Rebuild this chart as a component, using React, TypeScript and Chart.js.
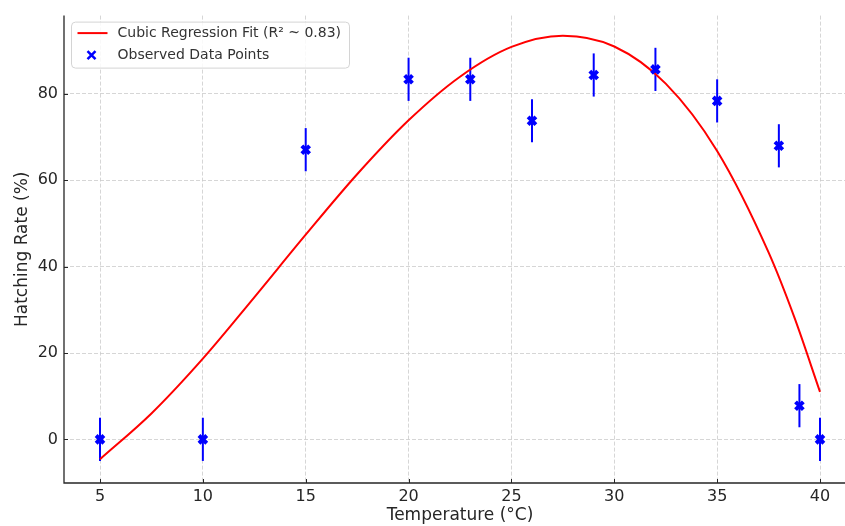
import React, { useEffect, useRef } from "react";
import { Chart, registerables } from "chart.js";

Chart.register(...registerables);

// Observed data
const temperatures = [5, 10, 15, 20, 23, 26, 29, 32, 35, 38, 39, 40];
const hatchingRates = [0, 0, 67.1, 83.4, 83.4, 73.8, 84.4, 85.7, 78.4, 68.0, 7.8, 0];
const errorSizes = [5, 5, 5, 5, 5, 5, 5, 5, 5, 5, 5, 5];

// Cubic regression curve
const fitTemps = [5, 7.5, 10, 12.5, 15, 17.5, 20, 22.5, 25, 27.5, 30, 32.5, 35, 37.5, 38.75, 40];
const fitRates = [-4.6, 6.0, 18.7, 32.9, 47.4, 61.4, 73.9, 84.0, 90.9, 93.5, 91.0, 82.4, 66.8, 43.3, 28.3, 11.0];

const xTicks = [5, 10, 15, 20, 25, 30, 35, 40];
const yTicks = [0, 20, 40, 60, 80];

const fitLabel = "Cubic Regression Fit (R² ~ 0.83)";
const pointsLabel = "Observed Data Points";
const xTitle = "Temperature (°C)";
const yTitle = "Hatching Rate (%)";

const FONT = "'DejaVu Sans', sans-serif";
const AXIS_COLOR = "#262626";

export default function App() {
  const ref = useRef<HTMLCanvasElement | null>(null);

  useEffect(() => {
    if (!ref.current) return;

    const errorBars = {
      id: "errorBars",
      beforeDatasetsDraw(chart: any) {
        const { ctx, scales } = chart;
        const xs = scales.x;
        const ys = scales.y;
        ctx.save();
        ctx.strokeStyle = "#0000ff";
        ctx.lineWidth = 2;
        temperatures.forEach((t, i) => {
          const px = xs.getPixelForValue(t);
          const y1 = ys.getPixelForValue(hatchingRates[i] - errorSizes[i]);
          const y2 = ys.getPixelForValue(hatchingRates[i] + errorSizes[i]);
          ctx.beginPath();
          ctx.moveTo(px, y1);
          ctx.lineTo(px, y2);
          ctx.stroke();
        });
        ctx.restore();
      },
    };

    const spines = {
      id: "spines",
      afterDatasetsDraw(chart: any) {
        const { ctx, chartArea, scales } = chart;
        ctx.save();
        ctx.strokeStyle = AXIS_COLOR;
        ctx.lineWidth = 1.3;
        ctx.setLineDash([]);
        ctx.beginPath();
        ctx.moveTo(chartArea.left, chartArea.top);
        ctx.lineTo(chartArea.left, chartArea.bottom);
        ctx.lineTo(chartArea.right, chartArea.bottom);
        ctx.stroke();
        ctx.lineWidth = 1;
        ctx.beginPath();
        xTicks.forEach((v) => {
          const px = Math.round(scales.x.getPixelForValue(v)) + 0.5;
          ctx.moveTo(px, chartArea.bottom);
          ctx.lineTo(px, chartArea.bottom - 4);
        });
        yTicks.forEach((v) => {
          const py = Math.round(scales.y.getPixelForValue(v)) + 0.5;
          ctx.moveTo(chartArea.left, py);
          ctx.lineTo(chartArea.left + 4, py);
        });
        ctx.stroke();
        ctx.restore();
      },
    };

    const boxLegend = {
      id: "boxLegend",
      afterDraw(chart: any) {
        const { ctx, chartArea } = chart;
        const x0 = chartArea.left + 7.5;
        const y0 = chartArea.top + 6.5;
        const w = 278;
        const h = 46;
        ctx.save();
        ctx.beginPath();
        const r = 4;
        ctx.moveTo(x0 + r, y0);
        ctx.lineTo(x0 + w - r, y0);
        ctx.quadraticCurveTo(x0 + w, y0, x0 + w, y0 + r);
        ctx.lineTo(x0 + w, y0 + h - r);
        ctx.quadraticCurveTo(x0 + w, y0 + h, x0 + w - r, y0 + h);
        ctx.lineTo(x0 + r, y0 + h);
        ctx.quadraticCurveTo(x0, y0 + h, x0, y0 + h - r);
        ctx.lineTo(x0, y0 + r);
        ctx.quadraticCurveTo(x0, y0, x0 + r, y0);
        ctx.closePath();
        ctx.fillStyle = "rgba(255,255,255,0.85)";
        ctx.fill();
        ctx.strokeStyle = "#d4d4d4";
        ctx.lineWidth = 1;
        ctx.stroke();

        // line sample
        ctx.strokeStyle = "#ff0000";
        ctx.lineWidth = 2;
        ctx.beginPath();
        ctx.moveTo(x0 + 6, y0 + 11);
        ctx.lineTo(x0 + 36, y0 + 11);
        ctx.stroke();

        // x marker sample
        const mx = x0 + 20;
        const my = y0 + 33;
        ctx.strokeStyle = "#0000ff";
        ctx.lineWidth = 2.5;
        ctx.beginPath();
        ctx.moveTo(mx - 4, my - 4);
        ctx.lineTo(mx + 4, my + 4);
        ctx.moveTo(mx + 4, my - 4);
        ctx.lineTo(mx - 4, my + 4);
        ctx.stroke();

        ctx.fillStyle = "#333333";
        ctx.font = "14px " + FONT;
        ctx.textBaseline = "middle";
        ctx.textAlign = "left";
        ctx.fillText(fitLabel, x0 + 46, y0 + 11);
        ctx.fillText(pointsLabel, x0 + 46, y0 + 33);
        ctx.restore();
      },
    };

    const chart = new Chart(ref.current, {
      type: "scatter",
      data: {
        datasets: [
          {
            type: "line",
            label: fitLabel,
            data: fitTemps.map((t, i) => ({ x: t, y: fitRates[i] })),
            borderColor: "#ff0000",
            borderWidth: 2,
            pointRadius: 0,
            cubicInterpolationMode: "monotone",
            fill: false,
            order: 2,
          } as any,
          {
            type: "scatter",
            label: pointsLabel,
            data: temperatures.map((t, i) => ({ x: t, y: hatchingRates[i] })),
            pointStyle: "crossRot",
            pointRadius: 5.5,
            borderWidth: 4,
            borderColor: "#0000ff",
            backgroundColor: "#0000ff",
            order: 1,
          },
        ],
      },
      options: {
        responsive: false,
        animation: false,
        devicePixelRatio: 1,
        layout: { padding: { top: 12, right: 14, left: 0, bottom: 0 } },
        plugins: { legend: { display: false }, tooltip: { enabled: false } },
        scales: {
          x: {
            type: "linear",
            min: 3.25,
            max: 41.75,
            afterFit(scale: any) {
              scale.height = 43;
            },
            afterBuildTicks(scale: any) {
              scale.ticks = xTicks.map((v) => ({ value: v }));
            },
            ticks: {
              font: { family: FONT, size: 16 },
              color: AXIS_COLOR,
              padding: 4,
              maxRotation: 0,
            },
            grid: {
              color: "#cccccc",
              lineWidth: 0.8,
              drawTicks: false,
            },
            border: { display: false, dash: [4, 2] },
            title: {
              display: true,
              text: xTitle,
              font: { family: FONT, size: 17 },
              color: AXIS_COLOR,
              padding: { top: 0, bottom: 0 },
            },
          },
          y: {
            type: "linear",
            min: -10.11,
            max: 98.16,
            afterFit(scale: any) {
              scale.width = 64;
            },
            afterBuildTicks(scale: any) {
              scale.ticks = yTicks.map((v) => ({ value: v }));
            },
            ticks: {
              font: { family: FONT, size: 16 },
              color: AXIS_COLOR,
              padding: 6,
            },
            grid: {
              color: "#cccccc",
              lineWidth: 0.8,
              drawTicks: false,
            },
            border: { display: false, dash: [4, 2] },
            title: {
              display: true,
              text: yTitle,
              font: { family: FONT, size: 17 },
              color: AXIS_COLOR,
              padding: { top: 12, bottom: 0 },
            },
          },
        },
      },
      plugins: [errorBars, spines, boxLegend],
    } as any);

    return () => chart.destroy();
  }, []);

  return (
    <div
      style={{
        position: "fixed",
        left: 0,
        top: 0,
        width: 845,
        height: 526,
        overflow: "hidden",
        background: "#ffffff",
      }}
    >
      <canvas ref={ref} width={870} height={526} style={{ display: "block" }} />
    </div>
  );
}
